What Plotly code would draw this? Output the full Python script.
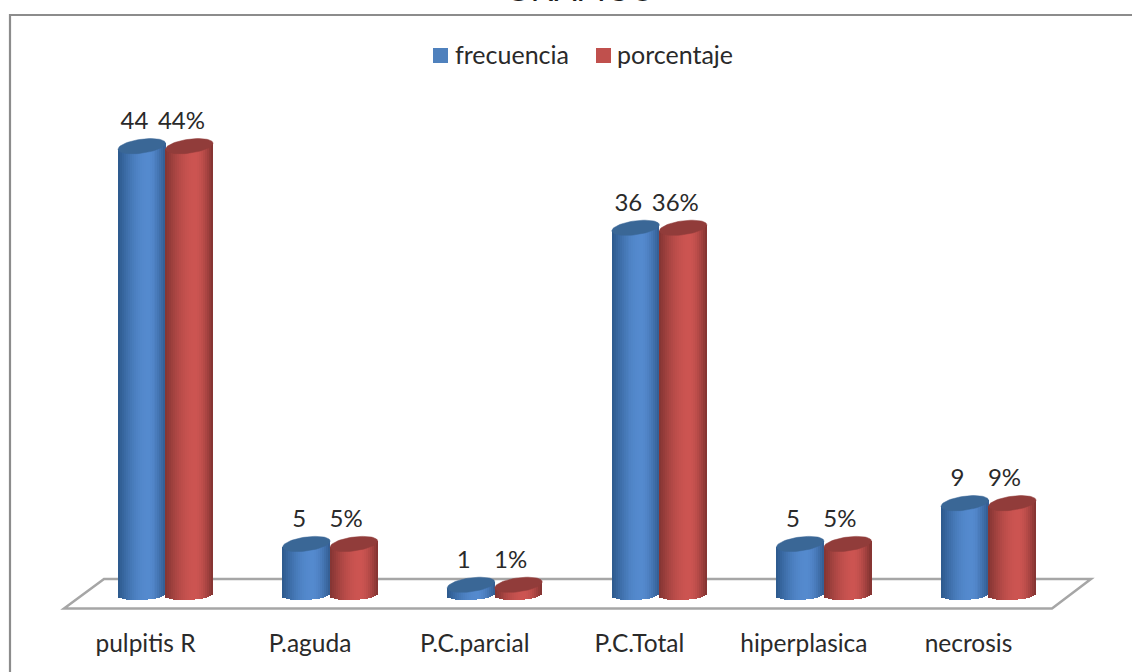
import math
import plotly.graph_objects as go

categories = ["pulpitis R", "P.aguda", "P.C.parcial", "P.C.Total", "hiperplasica", "necrosis"]
frecuencia = [44, 5, 1, 36, 5, 9]
porcentaje = [44, 5, 1, 36, 5, 9]

W, H = 1132, 672
AXIS_PX = 626
PX0, STEP = 165.5, 164.6      # pixel of first group, pixel per category
Y0, YS = 595.0, 10.2          # pixel of value 0, pixel per unit
BAR = 47.5
TILT, B_TOP, B_BOT, TILT_BOT = 3.0, 7.0, 5.0, 1.2
N = 24


def xu(px):
    return (px - PX0) / STEP


def yu(px):
    return (Y0 - px) / YS


def mix(a, b, t):
    return "rgb(%d,%d,%d)" % tuple(round(a[i] + (b[i] - a[i]) * t) for i in range(3))


def shade(edge_l, mid, edge_r, t):
    # cylinder lighting: brightest a little right of the middle
    peak = 0.62
    if t < peak:
        return mix(edge_l, mid, math.sin(t / peak * math.pi / 2))
    return mix(edge_r, mid, math.sin((1 - t) / (1 - peak) * math.pi / 2))


fig = go.Figure()


def add_series(name, values, side, edge_l, mid, edge_r, cap):
    xs, tops, bases, cols = [], [], [], []
    cap_x, cap_y = [], []
    dw = 1 / STEP * BAR / N
    for i, v in enumerate(values):
        left = i + (side - 1) * BAR / STEP
        for k in range(N):
            t = (k + 0.5) / N
            u = 2 * t - 1
            cx = left + t * BAR / STEP
            top = v + (TILT * u) / YS
            bot = -(B_BOT * math.sqrt(1 - u * u) - TILT_BOT * u) / YS
            xs.append(cx)
            tops.append(top - bot)
            bases.append(bot)
            cols.append(shade(edge_l, mid, edge_r, t))
        cxm = left + 0.5 * BAR / STEP
        for j in range(61):
            a = 2 * math.pi * j / 60
            cap_x.append(cxm + math.cos(a) * BAR / 2 / STEP)
            cap_y.append(v + (TILT * math.cos(a) + B_TOP * math.sin(a)) / YS)
        cap_x.append(None)
        cap_y.append(None)
    fig.add_trace(go.Bar(x=xs, y=tops, base=bases, width=dw * 1.12, name=name,
                         marker=dict(color=cols, line_width=0), showlegend=False, hoverinfo="skip"))
    fig.add_trace(go.Scatter(x=cap_x, y=cap_y, mode="lines", fill="toself", fillcolor=cap,
                             line=dict(color=cap, width=0.5), showlegend=False, hoverinfo="skip"))


add_series("frecuencia", frecuencia, 0, (44, 88, 140), (84, 138, 206), (50, 92, 145), "#3a6796")
add_series("porcentaje", porcentaje, 1, (130, 52, 50), (204, 84, 81), (128, 50, 48), "#913c3a")

FONT = "Lato"
TEXT = "#2a2a2a"
SIZE = 24
LABEL_UP = 23
fig.add_trace(go.Scatter(
    x=[i - 31 / STEP for i in range(6)], y=[v + LABEL_UP / YS for v in frecuencia],
    mode="text", text=[str(v) for v in frecuencia], textposition="middle center",
    textfont=dict(family=FONT, size=SIZE, color=TEXT), showlegend=False, hoverinfo="skip"))
fig.add_trace(go.Scatter(
    x=[i + 16 / STEP for i in range(6)], y=[v + LABEL_UP / YS for v in porcentaje],
    mode="text", text=[f"{v}%" for v in porcentaje], textposition="middle center",
    textfont=dict(family=FONT, size=SIZE, color=TEXT), showlegend=False, hoverinfo="skip"))


def px(x):
    return x / W


def py(y):
    return 1 - y / H


floor = "M %f,%f L %f,%f L %f,%f L %f,%f Z" % (px(64), py(608.5), px(104), py(579), px(1091), py(579), px(1052), py(608.5))
frame = "M %f,%f L %f,%f L %f,%f" % (px(10), py(H + 5), px(10), py(15), px(W + 5), py(15))
legend_items = [("frecuencia", 433, 455, "#4f81bd"), ("porcentaje", 596, 617, "#c0504d")]
shapes = [
    dict(type="path", xref="paper", yref="paper", path=floor, line=dict(color="#a6a6a6", width=2.5), layer="below"),
    dict(type="path", xref="paper", yref="paper", path=frame, line=dict(color="#8c8c8c", width=2.2), layer="below"),
]
annotations = [dict(text="GRAFICO", xref="paper", yref="paper", x=px(580), y=py(10), xanchor="center",
                    yanchor="bottom", showarrow=False,
                    font=dict(family="Liberation Sans", size=33, color="#1a1a1a"))]
for name, sw, tx, col in legend_items:
    shapes.append(dict(type="rect", xref="paper", yref="paper", x0=px(sw), x1=px(sw + 15), y0=py(63), y1=py(48),
                       fillcolor=col, line_width=0))
    annotations.append(dict(text=name, xref="paper", yref="paper", x=px(tx), y=py(54), xanchor="left",
                            yanchor="middle", showarrow=False, xshift=-2,
                            font=dict(family=FONT, size=25, color=TEXT)))

fig.update_layout(
    width=W, height=H, template="none", paper_bgcolor="white", plot_bgcolor="rgba(0,0,0,0)",
    margin=dict(l=0, r=0, t=0, b=0), barmode="overlay", bargap=0, showlegend=False,
    font=dict(family=FONT, size=SIZE, color=TEXT),
    shapes=shapes, annotations=annotations,
    xaxis=dict(range=[xu(0), xu(W)], tickmode="array", tickvals=[i - 20 / STEP for i in range(6)], ticktext=categories,
               showgrid=False, zeroline=False, showline=False, ticks="", automargin=False,
               tickfont=dict(family=FONT, size=24.5, color=TEXT)),
    yaxis=dict(range=[yu(AXIS_PX), yu(0)], domain=[1 - AXIS_PX / H, 1], visible=False, showgrid=False,
               zeroline=False, automargin=False),
)
fig.write_html("out.html", config={"displayModeBar": False},
               post_script="document.body.style.margin='0';document.body.style.overflow='hidden';")
